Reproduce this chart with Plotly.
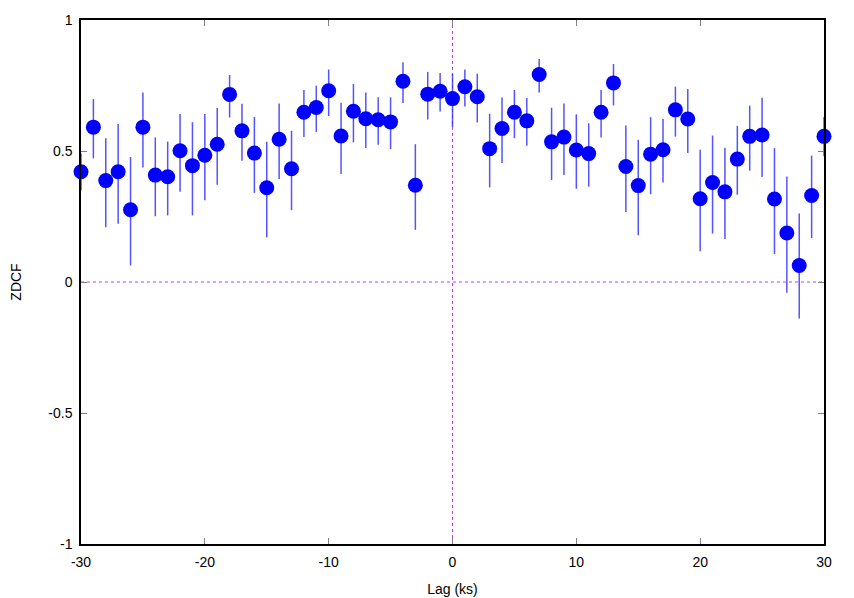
import plotly.graph_objects as go

lag = list(range(-30, 31))
zdcf = [0.421, 0.591, 0.387, 0.421, 0.276, 0.591, 0.408, 0.402, 0.501, 0.444,
        0.484, 0.526, 0.716, 0.577, 0.492, 0.360, 0.545, 0.432, 0.648, 0.666,
        0.730, 0.557, 0.652, 0.623, 0.619, 0.611, 0.766, 0.369, 0.717, 0.728,
        0.700, 0.745, 0.707, 0.509, 0.586, 0.648, 0.615, 0.792, 0.535, 0.553,
        0.504, 0.490, 0.648, 0.760, 0.441, 0.368, 0.488, 0.505, 0.657, 0.622,
        0.318, 0.380, 0.344, 0.469, 0.556, 0.561, 0.317, 0.187, 0.063, 0.330,
        0.556]
upper = [0.49, 0.698, 0.549, 0.603, 0.477, 0.723, 0.552, 0.536, 0.641, 0.610,
         0.641, 0.664, 0.790, 0.680, 0.630, 0.535, 0.681, 0.577, 0.733, 0.749,
         0.811, 0.684, 0.756, 0.723, 0.705, 0.705, 0.839, 0.526, 0.802, 0.798,
         0.795, 0.811, 0.795, 0.642, 0.704, 0.733, 0.702, 0.851, 0.665, 0.681,
         0.640, 0.606, 0.733, 0.832, 0.597, 0.543, 0.629, 0.622, 0.746, 0.737,
         0.505, 0.559, 0.512, 0.596, 0.673, 0.703, 0.511, 0.403, 0.261, 0.482,
         0.63]
lower = [0.35, 0.472, 0.209, 0.222, 0.063, 0.437, 0.251, 0.254, 0.344, 0.254,
         0.312, 0.371, 0.628, 0.463, 0.340, 0.171, 0.393, 0.274, 0.553, 0.573,
         0.633, 0.412, 0.533, 0.511, 0.524, 0.507, 0.683, 0.199, 0.620, 0.651,
         0.591, 0.670, 0.609, 0.361, 0.454, 0.549, 0.520, 0.723, 0.389, 0.408,
         0.356, 0.364, 0.552, 0.674, 0.267, 0.178, 0.335, 0.380, 0.555, 0.492,
         0.117, 0.185, 0.164, 0.333, 0.425, 0.401, 0.107, -0.041, -0.139, 0.168,
         0.48]

err_plus = [u - v for u, v in zip(upper, zdcf)]
err_minus = [v - l for v, l in zip(zdcf, lower)]

x_ticks = [-30, -20, -10, 0, 10, 20, 30]
x_labels = ["-30", "-20", "-10", "0", "10", "20", "30"]
y_ticks = [-1, -0.5, 0, 0.5, 1]
y_labels = ["-1", "-0.5", "0", "0.5", "1"]

FONT = "Liberation Sans, Arial, sans-serif"

fig = go.Figure()
fig.add_trace(go.Scatter(
    x=lag, y=zdcf, mode="markers",
    marker=dict(size=15, color="#0000ff", line=dict(width=0)),
    error_y=dict(type="data", symmetric=False, array=err_plus, arrayminus=err_minus,
                 color="rgba(40,40,255,0.8)", thickness=1.5, width=0),
    cliponaxis=False, showlegend=False,
))

fig.add_shape(type="line", xref="x", yref="y", x0=-30, x1=30, y0=0, y1=0,
              line=dict(color="#c040f0", width=1, dash="3px,3px"), layer="below")
fig.add_shape(type="line", xref="x", yref="y", x0=0, x1=0, y0=-1, y1=1,
              line=dict(color="#c040f0", width=1, dash="3px,3px"), layer="below")

axis_common = dict(showgrid=False, zeroline=False, showline=True, linecolor="black",
                   linewidth=1.5, mirror="ticks", ticks="inside", ticklen=6,
                   tickcolor="#808080", tickwidth=1, automargin=False,
                   tickfont=dict(family=FONT, size=14, color="black"))

# the page body adds an 8px offset; the figure is sized to fill the window
fig.update_layout(
    width=846, height=590,
    margin=dict(l=73, r=30, t=12, b=54),
    plot_bgcolor="white", paper_bgcolor="white",
    font=dict(family=FONT, size=14, color="black"),
    xaxis=dict(range=[-30, 30], tickvals=x_ticks, ticktext=x_labels, ticklabelstandoff=4,
               title=dict(text="Lag (ks)", standoff=16, font=dict(size=14)), **axis_common),
    yaxis=dict(range=[-1, 1], tickvals=y_ticks, ticktext=y_labels, ticklabelstandoff=4,
               title=dict(text="ZDCF", standoff=30, font=dict(size=14)), **axis_common),
)

fig.write_html("out.html")
